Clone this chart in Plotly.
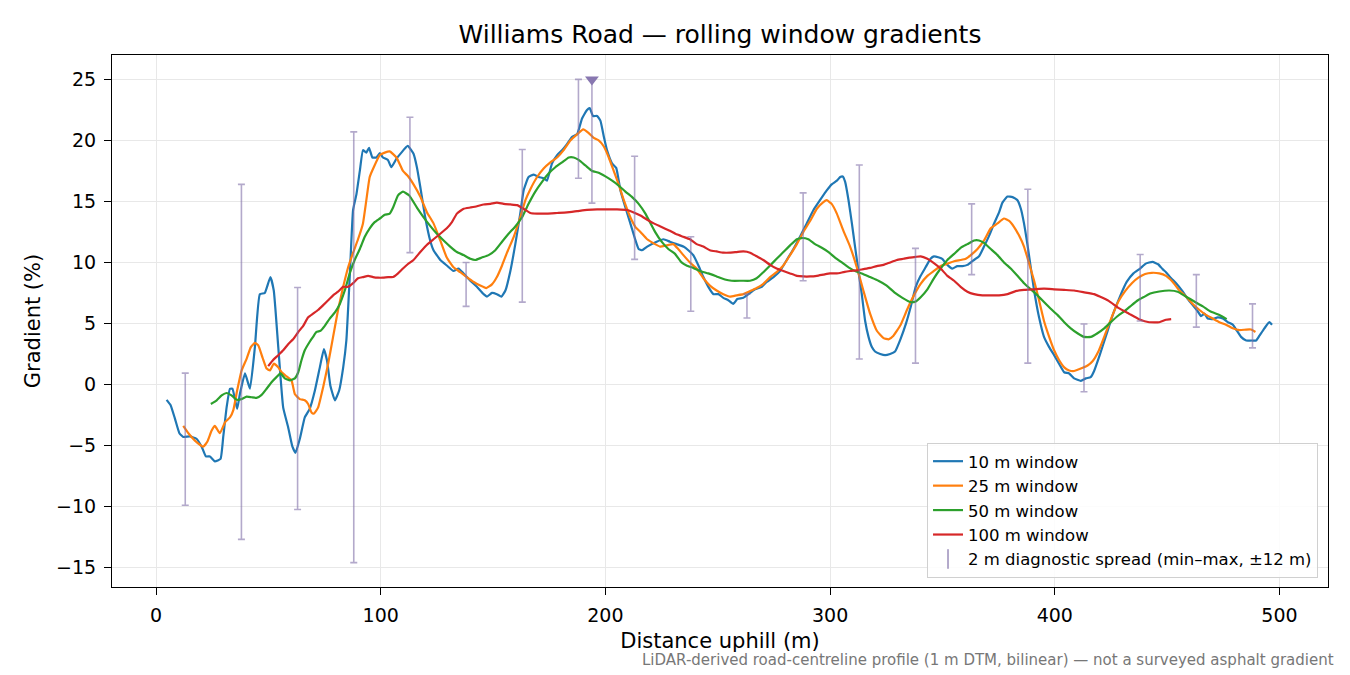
import plotly.graph_objects as go

# rolling window gradients
x_10 = [4.7, 6.5, 8.4, 10.4, 12.1, 15.1, 18, 20.3, 22.2, 24, 26.2, 28.7, 29.9, 31.4, 32.9, 34, 36.1, 37.3,
        39.6, 41.8, 44, 46.2, 48.4, 50.9, 52.4, 54.4, 56.6, 58.8, 60.7, 62.1, 64, 66.2, 68.4, 70.7, 72.9,
        74.7, 76.1, 77.6, 79.6, 81.5, 83.3, 84.7, 86.2, 87.7, 89.2, 90.7, 92.1, 93.6, 94.8, 96.3, 98.1,
        99.6, 101, 103.2, 104.7, 107, 109.2, 112, 114.6, 116.1, 117.6, 119.8, 122, 123.5, 126.5, 129.4,
        132.4, 134.6, 136.9, 139.9, 142.8, 145.8, 147.3, 149.5, 151.7, 153.7, 155.5, 157.7, 159.9, 162.1,
        163.6, 165.8, 168.1, 170.3, 172.5, 174, 176.2, 178.5, 180.7, 182.9, 185.2, 187.4, 189.6, 191.8,
        193, 194.5, 196.3, 197.8, 199.3, 200.7, 203, 204.8, 206.7, 208.9, 211.1, 213.4, 214.8, 216.3,
        218.6, 222.8, 225.8, 228.7, 231.7, 234.7, 236.9, 239.1, 241.4, 243.6, 245.8, 248.1, 250.3, 252.5,
        254.7, 256.9, 258.7, 261.4, 264.4, 266.6, 269.6, 271.8, 274.8, 277.7, 280.7, 283.7, 286.6, 289.6,
        292.6, 295.5, 298.5, 300.7, 303, 304.5, 305.6, 306.7, 308.2, 309.7, 311.1, 312.6, 314.1, 315.6,
        317.1, 318.6, 320, 322.3, 324.5, 326.7, 328.9, 331.3, 333.8, 335.8, 338.1, 340.3, 342.5, 344.7,
        346.2, 348.5, 349.9, 352.2, 354.4, 356.6, 358.9, 361.1, 363.3, 366.3, 368.5, 370.8, 373, 375.2,
        376.7, 378.9, 381.2, 383.4, 384.9, 386.3, 387.8, 389.3, 390.8, 393, 395.2, 397.5, 399.7, 401.9,
        404.2, 406.4, 408.6, 411.6, 413.8, 416, 417.5, 420, 423, 426, 429, 432, 435, 438, 440.5, 443.5,
        446, 448, 449.5, 451.8, 454, 457, 459.2, 461.4, 463.6, 465.1, 466.6, 468.1, 470.3, 472.5, 474.8,
        477, 479.2, 480.7, 482.9, 485.2, 487.4, 489.6, 491.1, 493.3, 495.5, 496.7]
g_10 = [-1.26, -1.7, -2.8, -4.0, -4.3, -4.26, -4.45, -5.1, -5.9, -5.9, -6.3, -6.1, -4.3, -1.9, -0.35, -0.35,
        -2.0, -0.8, 0.9, -0.35, 3.06, 7.4, 7.5, 8.8, 7.7, 3.06, -1.9, -3.5, -5.1, -5.6, -4.45, -2.7, -2.0,
        -0.5, 1.4, 2.9, 1.96, -0.1, -1.3, -0.5, 1.4, 3.6, 8.8, 14.3, 15.6, 17.5, 19.2, 19.0, 19.4, 18.6,
        18.6, 18.96, 18.6, 18.4, 17.8, 18.5, 19.0, 19.55, 18.9, 17.8, 16.2, 13.7, 11.8, 11.0, 10.2, 9.75,
        9.3, 9.5, 9.1, 8.5, 8.0, 7.4, 7.2, 7.5, 7.4, 7.2, 7.7, 9.3, 11.5, 14.0, 15.9, 17.0, 17.2, 17.0,
        16.9, 16.7, 18.1, 18.8, 19.2, 19.7, 20.3, 20.5, 21.8, 22.5, 22.65, 22.0, 22.0, 21.6, 20.3, 19.2,
        18.1, 17.75, 15.9, 14.5, 13.2, 11.8, 11.1, 11.0, 11.3, 11.7, 11.9, 11.7, 11.5, 11.3, 11.0, 10.6,
        9.75, 8.8, 8.0, 7.4, 7.4, 7.1, 6.9, 6.6, 7.0, 7.1, 7.5, 7.8, 8.0, 8.4, 8.8, 9.3, 10.2, 11.1, 12.1,
        13.2, 14.3, 15.1, 15.9, 16.4, 16.7, 17.0, 17.05, 16.6, 15.1, 13.2, 11.3, 9.3, 7.4, 5.2, 3.9, 3.06,
        2.7, 2.5, 2.4, 2.5, 2.7, 3.7, 5.0, 6.3, 8.0, 8.9, 9.6, 10.3, 10.5, 10.4, 10.3, 9.8, 9.5, 9.7, 9.7,
        9.8, 10.1, 10.5, 11.3, 12.2, 13.2, 14.1, 14.9, 15.4, 15.35, 15.1, 14.4, 13.2, 11.5, 9.6, 7.7, 5.5,
        3.9, 3.06, 2.4, 1.7, 1.0, 0.9, 0.5, 0.3, 0.5, 0.6, 1.1, 2.4, 4.1, 5.8, 7.2, 8.4, 9.1, 9.5, 9.9,
        10.05, 9.85, 9.45, 9.2, 8.7, 8.3, 7.6, 7.0, 6.5, 6.0, 5.6, 5.8, 5.4, 5.35, 5.5, 5.4, 5.1, 4.9, 4.5,
        3.9, 3.6, 3.6, 3.6, 4.0, 4.6, 5.1, 4.9]

x_25 = [12.1, 14.4, 17.3, 21, 22.8, 24.7, 26.2, 28.4, 30.7, 32.9, 34.4, 36.1, 38.1, 40.3, 42.2, 44, 45.5,
        47.4, 49.2, 50.7, 52.4, 54.4, 55.9, 58.1, 60.3, 61.8, 64, 66.2, 67.7, 69.2, 70.2, 72.1, 74.4, 76.6,
        78.8, 81, 83.3, 85.5, 87.7, 89.9, 92.1, 93.6, 95.1, 96.9, 99.6, 101.8, 104, 107, 109.9, 112, 114.6,
        117.6, 120.6, 123.5, 126.5, 129.4, 132.4, 135.4, 138.3, 141.4, 144.3, 147, 149.5, 151.7, 154,
        156.2, 159.2, 162.1, 164.4, 166.6, 169.6, 172.5, 175.5, 178.5, 181.4, 184.4, 187.4, 190.1, 192.6,
        194.8, 197, 199.3, 201.5, 203.7, 205.9, 208.2, 211.1, 213.4, 215.6, 218.6, 222.1, 224.3, 227.2,
        230.2, 232.4, 234.7, 237.6, 240.6, 243.6, 246.5, 249.5, 252.5, 255.5, 258.4, 261.4, 264.4, 267.3,
        270.3, 273.3, 276.2, 279.2, 282.2, 285.2, 288.1, 291.1, 294.1, 297, 298.5, 300.7, 303, 305.9,
        308.9, 311.9, 314.8, 317.8, 320.8, 323.8, 326, 328.2, 331.3, 334.2, 337.3, 340.3, 343.3, 346.2,
        349.2, 352.2, 355.2, 358.1, 360.4, 362.6, 365.6, 368.5, 371.5, 374.5, 377.4, 379.7, 381.9, 384.1,
        386.3, 388.6, 390.8, 393, 395.2, 397.5, 399.7, 401.9, 404.2, 406.4, 408.6, 411.6, 414.6, 416.8,
        419.4, 422.4, 425.3, 428.3, 431.3, 434.3, 437.2, 440.2, 443.2, 446.5, 449.5, 452.5, 455.5, 458.4,
        461.4, 464.4, 467.3, 470.3, 473.3, 476.2, 479.2, 482.2, 485.2, 487.4, 489.3]
g_25 = [-3.4, -4.0, -4.6, -5.1, -4.7, -3.8, -3.4, -4.0, -3.1, -2.7, -2.1, -0.5, 1.15, 2.1, 3.06, 3.4, 3.2,
        2.2, 1.3, 1.15, 1.7, 1.4, 1.0, 0.66, 0.33, -0.8, -1.2, -1.3, -1.6, -2.3, -2.4, -1.9, -0.2, 1.7,
        3.9, 6.1, 8.0, 9.6, 10.8, 11.9, 13.2, 15.1, 17.0, 17.8, 18.8, 19.0, 19.1, 18.6, 17.5, 17.1, 16.4,
        15.4, 14.1, 13.2, 11.8, 10.4, 9.6, 9.2, 8.8, 8.4, 8.1, 7.9, 8.2, 8.8, 9.75, 10.8, 12.1, 13.7, 15.1,
        16.0, 17.0, 17.7, 18.2, 18.6, 19.2, 20.0, 20.5, 20.9, 20.6, 20.2, 20.0, 19.5, 18.6, 17.5, 16.4,
        15.1, 13.7, 12.9, 12.5, 11.9, 11.5, 11.3, 11.4, 11.5, 11.1, 10.6, 10.0, 9.5, 8.7, 8.1, 7.7, 7.4,
        7.2, 7.3, 7.4, 7.65, 7.9, 8.25, 8.8, 9.2, 9.75, 10.6, 11.5, 12.5, 13.4, 14.4, 14.95, 15.1, 14.8,
        14.0, 12.6, 11.3, 9.6, 7.7, 5.8, 4.4, 3.8, 3.7, 4.0, 4.85, 6.1, 7.3, 8.25, 8.9, 9.3, 9.7, 9.9,
        10.1, 10.2, 10.3, 10.6, 11.1, 11.8, 12.8, 13.2, 13.6, 13.4, 12.9, 12.2, 11.3, 9.9, 8.5, 6.9, 5.2,
        3.9, 2.8, 2.0, 1.4, 1.15, 1.1, 1.3, 1.55, 1.9, 2.7, 4.1, 5.5, 6.8, 7.65, 8.3, 8.75, 9.05, 9.15,
        9.1, 8.9, 8.4, 7.7, 7.2, 6.6, 6.1, 5.7, 5.4, 5.1, 4.9, 4.6, 4.45, 4.5, 4.5, 4.3]

x_50 = [24.4, 27, 29.2, 31.4, 33.6, 35.9, 38.1, 40.3, 42.5, 44.7, 47, 49.2, 51.5, 53.6, 55.4, 57.3, 59.6,
        61.8, 63.3, 64.7, 66.2, 68.4, 69.9, 71.4, 73.2, 75.1, 77.3, 79.6, 81.8, 84, 86.2, 88.4, 90.7, 92.9,
        95.1, 97.3, 99.6, 101.8, 104, 105.5, 107.7, 109.9, 112.6, 116.1, 119.1, 122, 125, 128, 130.9,
        133.9, 136.9, 139.9, 142.1, 145, 148, 151, 154, 156.9, 159.9, 162.9, 165.8, 168.8, 171.8, 174.8,
        177.7, 180.7, 183.7, 185.9, 188.1, 191.1, 194.1, 197, 200, 203, 205.9, 208.9, 211.9, 214.8, 217.8,
        219.8, 222.1, 225, 228, 231, 233.9, 236.1, 239.1, 242.1, 245.8, 249.5, 253.2, 256.2, 260.7, 264.4,
        267.3, 270.3, 273.3, 276.2, 279.2, 282.2, 285.2, 287.4, 290.3, 293.3, 296.3, 299.3, 302.2, 305.2,
        308.2, 311.1, 314.1, 317.8, 321.5, 325.2, 328.9, 332.2, 335.8, 338.1, 340.3, 343.3, 346.2, 349.2,
        352.2, 355.2, 358.1, 361.1, 364.1, 366.3, 368.5, 371.5, 374.5, 377.4, 380.4, 383.4, 386.3, 389.3,
        392.3, 395.2, 398.2, 401.2, 404.2, 407.1, 410.1, 413.1, 416, 419, 422, 424.6, 428.3, 431, 433.6,
        437, 440, 442.5, 446.5, 451, 454.7, 458.4, 462.1, 465.9, 469.6, 473.3, 476.5]
g_50 = [-1.6, -1.3, -0.9, -0.7, -0.9, -1.25, -1.2, -1.0, -1.05, -1.1, -0.85, -0.35, 0.2, 0.6, 0.9, 0.5,
        0.33, 0.5, 1.0, 1.96, 2.8, 3.5, 3.9, 4.3, 4.4, 4.8, 5.4, 5.9, 6.6, 7.7, 9.1, 10.2, 11.1, 12.1, 12.8,
        13.3, 13.6, 13.9, 14.0, 14.5, 15.5, 15.8, 15.5, 14.5, 13.7, 13.0, 12.35, 11.8, 11.3, 10.85, 10.6,
        10.3, 10.2, 10.4, 10.6, 11.0, 11.7, 12.35, 12.95, 13.7, 14.8, 15.8, 16.6, 17.3, 17.8, 18.2, 18.6,
        18.6, 18.4, 17.95, 17.5, 17.35, 17.05, 16.7, 16.3, 15.8, 15.35, 14.8, 14.0, 13.3, 12.5, 11.7, 11.1,
        10.7, 10.0, 9.75, 9.55, 9.3, 9.1, 8.85, 8.6, 8.5, 8.5, 8.5, 8.7, 9.2, 9.75, 10.3, 10.85, 11.4,
        11.9, 12.0, 11.9, 11.5, 11.2, 10.85, 10.4, 10.0, 9.6, 9.3, 9.1, 8.8, 8.5, 8.1, 7.5, 7.1, 6.75, 6.8,
        7.15, 7.8, 8.7, 9.5, 10.2, 10.7, 11.2, 11.5, 11.8, 11.8, 11.6, 11.1, 10.6, 10.0, 9.5, 8.9, 8.3,
        7.8, 7.3, 6.75, 6.2, 5.7, 5.1, 4.6, 4.2, 3.9, 3.9, 4.2, 4.6, 5.05, 5.65, 6.0, 6.4, 6.9, 7.2, 7.45,
        7.62, 7.7, 7.6, 7.2, 6.8, 6.4, 5.95, 5.7, 5.35]

x_100 = [49.9, 52.1, 54.4, 56.6, 58.8, 61, 63.3, 65.5, 67.7, 69.9, 72.1, 74.4, 76.6, 78.8, 81, 83.3, 85.5,
         87.7, 89.9, 92.1, 94.4, 96.6, 98.8, 101, 103.3, 105.5, 107.7, 109.9, 112, 114.6, 117.6, 120.6,
         123.5, 126.5, 129.4, 131.7, 133.9, 136.9, 139.9, 142.8, 145.8, 148.8, 151.7, 154.7, 157.7, 160.7,
         163.6, 166.6, 169.6, 174, 178.5, 182.9, 187.4, 191.8, 196.3, 200.7, 205.2, 209.7, 212.6, 215.6,
         218.6, 221.5, 224.5, 228.7, 231.7, 234.7, 237.6, 240.6, 243.6, 246.5, 249.5, 252.5, 255.5, 258.4,
         261.4, 264.4, 267.3, 270.3, 273.3, 276.2, 279.2, 282.2, 285.2, 288.1, 291.1, 294.1, 297, 300, 303,
         305.9, 308.9, 311.9, 314.8, 317.8, 320.8, 323.8, 326.7, 329.7, 332.7, 335.3, 338, 340.3, 343.3,
         346.2, 349.2, 352.2, 355.2, 358.1, 361.1, 364.1, 367.8, 371.5, 375.2, 379, 382.6, 386.3, 390.8,
         395.2, 399.7, 404.2, 408.6, 413.1, 417.5, 420, 424, 428.5, 433, 437.5, 442, 446.5, 449.5, 451.8]
g_100 = [1.5, 2.0, 2.4, 2.8, 3.3, 3.7, 4.3, 4.8, 5.5, 5.8, 6.1, 6.5, 6.9, 7.3, 7.6, 8.0, 8.0, 8.3, 8.7, 8.8,
         8.9, 8.8, 8.75, 8.75, 8.8, 8.8, 9.1, 9.5, 9.85, 10.2, 10.85, 11.45, 11.9, 12.35, 12.8, 13.3, 14.0,
         14.4, 14.5, 14.6, 14.75, 14.8, 14.9, 14.8, 14.75, 14.7, 14.4, 14.05, 14.0, 14.0, 14.05, 14.1, 14.2,
         14.3, 14.35, 14.35, 14.35, 14.3, 14.1, 13.85, 13.5, 13.2, 12.95, 12.6, 12.3, 12.1, 11.9, 11.5,
         11.3, 11.0, 10.9, 10.8, 10.8, 10.85, 10.9, 10.8, 10.5, 10.2, 9.8, 9.5, 9.3, 9.1, 8.9, 8.85, 8.85,
         8.9, 9.0, 9.1, 9.1, 9.2, 9.3, 9.35, 9.45, 9.55, 9.7, 9.8, 10.0, 10.2, 10.3, 10.4, 10.45, 10.5,
         10.3, 9.95, 9.5, 8.9, 8.5, 8.0, 7.6, 7.4, 7.3, 7.3, 7.3, 7.4, 7.65, 7.75, 7.8, 7.85, 7.8, 7.75,
         7.7, 7.55, 7.4, 7.2, 6.85, 6.25, 5.8, 5.35, 5.1, 5.1, 5.3, 5.35]

# 2 m diagnostic spread (min-max within +-12 m)
spread_x = [13, 38, 63, 88, 113, 138, 163, 188, 194, 213, 238, 263, 288, 313, 338, 363, 388, 413, 438, 463, 488]
spread_lo = [-9.9, -12.7, -10.25, -14.6, 10.8, 6.4, 6.75, 16.9, 14.86, 10.25, 6.0, 5.45, 8.5, 2.08, 1.75,
             9.0, 1.75, -0.6, 5.2, 4.7, 3.0]
spread_hi = [0.93, 16.4, 7.95, 20.7, 21.9, 10.0, 19.26, 25.0, 25.0, 18.7, 12.1, 7.4, 15.7, 17.98, 11.15,
             14.8, 16.0, 4.95, 10.65, 9.0, 6.6]
steep_x = [194]
steep_y = [25.0]

FONT = "DejaVu Sans"
bar_col = "rgba(128,112,168,0.6)"

fig = go.Figure()

for xs, ys, name, col in [(x_10, g_10, "10 m window", "#1f77b4"),
                          (x_25, g_25, "25 m window", "#ff7f0e"),
                          (x_50, g_50, "50 m window", "#2ca02c"),
                          (x_100, g_100, "100 m window", "#d62728")]:
    fig.add_trace(go.Scatter(x=xs, y=ys, mode="lines", name=name,
                             line=dict(color=col, width=2.2, shape="spline", smoothing=0.4)))

mid = [(a + b) / 2 for a, b in zip(spread_lo, spread_hi)]
fig.add_trace(go.Scatter(
    x=spread_x, y=mid, mode="markers", showlegend=False, hoverinfo="skip",
    marker=dict(size=1, color="rgba(0,0,0,0)"),
    error_y=dict(type="data", symmetric=False,
                 array=[h - m for h, m in zip(spread_hi, mid)],
                 arrayminus=[m - l for m, l in zip(mid, spread_lo)],
                 color=bar_col, thickness=1.6, width=3.5),
))
# legend stand-in for the error bars
fig.add_trace(go.Scatter(
    x=[None], y=[None], mode="markers", name="2 m diagnostic spread (min–max, ±12 m)",
    marker=dict(symbol="line-ns-open", size=14, color=bar_col, line=dict(color=bar_col, width=2)),
))
fig.add_trace(go.Scatter(
    x=steep_x, y=steep_y, mode="markers", showlegend=False,
    marker=dict(symbol="triangle-down", size=12, color="#8877b0"),
))

axis_common = dict(
    showline=True, linecolor="black", linewidth=1, mirror=True,
    ticks="outside", ticklen=7, tickwidth=1, tickcolor="black", ticklabelstandoff=4,
    showgrid=True, gridcolor="#e8e8e8", gridwidth=1, zeroline=False,
    tickfont=dict(family=FONT, size=19, color="black"),
)

fig.update_layout(
    width=1350, height=675,
    margin=dict(l=112, r=22, t=55, b=88),
    paper_bgcolor="white", plot_bgcolor="white",
    font=dict(family=FONT, color="black"),
    title=dict(text="Williams Road — rolling window gradients", x=0.5, xref="paper",
               y=1 - 34 / 675, yref="container", yanchor="middle",
               font=dict(family=FONT, size=25, color="black")),
    xaxis=dict(range=[-19.6, 521.6], tickvals=[0, 100, 200, 300, 400, 500],
               title=dict(text="Distance uphill (m)", font=dict(family=FONT, size=21), standoff=8),
               **axis_common),
    yaxis=dict(range=[-16.6, 27.0], tickvals=[-15, -10, -5, 0, 5, 10, 15, 20, 25],
               title=dict(text="Gradient (%)", font=dict(family=FONT, size=21), standoff=9),
               **axis_common),
    legend=dict(x=0.9918, y=0.017, xanchor="right", yanchor="bottom",
                bgcolor="rgba(255,255,255,0.85)", bordercolor="#d0d0d0", borderwidth=1,
                font=dict(family=FONT, size=16.5, color="black"), tracegroupgap=0),
    showlegend=True,
    annotations=[dict(
        text="LiDAR-derived road-centreline profile (1 m DTM, bilinear) — not a surveyed asphalt gradient",
        xref="paper", yref="paper", x=1.0066, y=-0.137, xanchor="right", yanchor="middle",
        showarrow=False, font=dict(family=FONT, size=15, color="#777777"))],
)

fig.write_html("out.html", config={"displayModeBar": False},
               post_script="document.body.style.margin = '0px';")
